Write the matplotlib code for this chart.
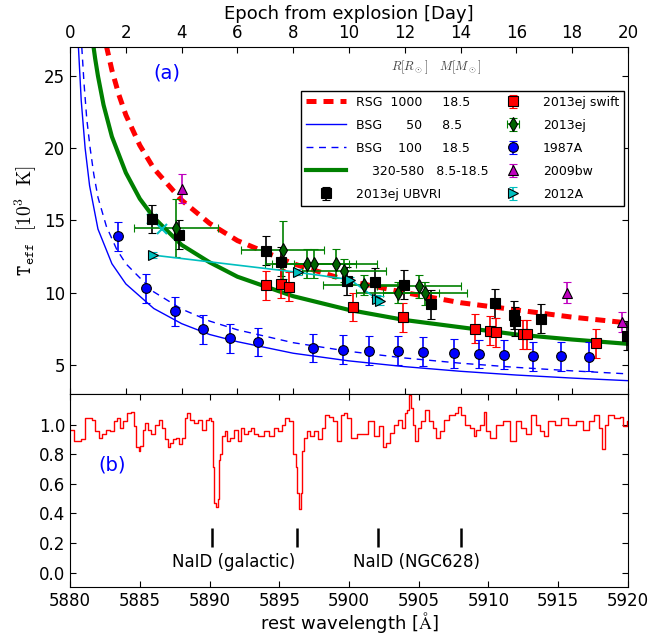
import matplotlib
matplotlib.use('Agg')
import matplotlib.pyplot as plt

plt.rcParams['mathtext.fontset'] = 'cm'
plt.rcParams['xtick.direction'] = 'in'
plt.rcParams['ytick.direction'] = 'in'
plt.rcParams['xtick.major.size'] = 4
plt.rcParams['ytick.major.size'] = 4
plt.rcParams['font.size'] = 12

# model curves
rsg_day = [1.3, 1.5, 1.75, 2, 2.5, 3, 4, 5, 6, 8, 10, 12, 14, 16, 18, 20]
rsg_T = [27.1, 25.4, 23.7, 22.3, 20.2, 18.6, 16.4, 14.8, 13.6, 12.0, 10.8, 10.0, 9.3, 8.8, 8.3, 7.9]

bsg50_day = [0.3, 0.4, 0.54, 0.7, 1, 1.5, 2, 3, 4, 5, 6, 8, 10, 12, 14, 16, 18, 20]
bsg50_T = [27.0, 23.3, 20.0, 17.4, 14.4, 12.0, 10.6, 8.9, 7.85, 7.1, 6.6, 5.8, 5.27, 4.87, 4.55, 4.29, 4.08, 3.9]

bsg100_day = [0.42, 0.5, 0.6, 0.72, 0.85, 1, 1.3, 1.67, 2, 3, 4, 5, 6, 8, 10, 12, 14, 16, 18, 20]
bsg100_T = [27.0, 24.5, 22.0, 20.0, 18.2, 16.6, 14.6, 13.0, 12.0, 10.05, 8.86, 8.03, 7.42, 6.53, 5.93, 5.47, 5.11, 4.82, 4.58, 4.37]

mid_day = [0.8, 0.9, 1.0, 1.2, 1.5, 2, 2.5, 3, 4, 5, 6, 8, 10, 12, 14, 16, 18, 20]
mid_T = [27.6, 26.2, 25.0, 23.0, 20.8, 18.3, 16.5, 15.2, 13.3, 12.1, 11.1, 9.75, 8.8, 8.1, 7.6, 7.1, 6.75, 6.45]

# observations
ubvri_day = [2.93, 3.92, 7.03, 7.56, 9.92, 10.93, 11.97, 12.94, 15.23, 15.9, 15.95, 16.88, 19.95]
ubvri_T = [15.1, 14.0, 12.9, 12.15, 10.8, 10.7, 10.55, 9.2, 9.25, 8.45, 8.0, 8.2, 7.0]
ubvri_err = [1.0] * 13

swift_day = [7.03, 7.56, 7.86, 10.14, 11.95, 14.52, 15.05, 15.26, 16.25, 16.37, 18.85]
swift_T = [10.5, 10.6, 10.4, 9.0, 8.3, 7.5, 7.35, 7.25, 7.12, 7.1, 6.5]
swift_err = [1.0] * 11

ej_day = [3.8, 7.62, 8.5, 8.74, 9.52, 9.83, 10.55, 11.74, 12.52, 12.72]
ej_T = [14.45, 12.95, 12.0, 12.0, 12.0, 11.5, 10.5, 10.0, 10.45, 9.95]
ej_xerr = [1.5] * 10
ej_yerr = [2.0, 2.0, 1.0, 1.0, 1.0, 0.8, 0.7, 0.7, 0.8, 0.8]

sn87_day = [1.72, 2.72, 3.76, 4.77, 5.73, 6.74, 8.71, 9.78, 10.7, 11.76, 12.66, 13.76, 14.66, 15.56, 16.6, 17.6, 18.6]
sn87_T = [13.9, 10.3, 8.7, 7.47, 6.85, 6.58, 6.16, 6.03, 5.96, 5.96, 5.9, 5.8, 5.75, 5.7, 5.6, 5.6, 5.55]
sn87_err = [1.0] * 17

bw_day = [4.0, 17.8, 19.8]
bw_T = [17.2, 10.0, 7.95]
bw_err = [1.0, 0.7, 0.7]

a12_day = [2.96, 8.18, 10.04, 11.0, 11.1]
a12_T = [12.6, 11.4, 10.9, 9.55, 9.45]
a12_err = [0.2, 0.2, 0.2, 0.3, 0.3]

cross_day = [2.93, 3.29, 3.92]
cross_T = [15.1, 14.4, 14.0]

# NaID spectrum
wl = [5880.0, 5880.55, 5880.96, 5881.23, 5881.5, 5881.64, 5881.97, 5882.19, 5882.46, 5882.74,
      5883.01, 5883.28, 5883.42, 5883.69, 5883.97, 5884.24, 5884.46, 5884.65, 5884.87, 5884.98,
      5885.12, 5885.28, 5885.47, 5885.66, 5885.88, 5886.29, 5886.48, 5886.7, 5886.92, 5887.06,
      5887.25, 5887.52, 5887.74, 5887.93, 5888.13, 5888.34, 5888.48, 5888.76, 5889.03, 5889.3,
      5889.58, 5889.85, 5890.04, 5890.18, 5890.26, 5890.34, 5890.53, 5890.62, 5890.72, 5890.81,
      5891.03, 5891.16, 5891.35, 5891.63, 5891.9, 5892.18, 5892.31, 5892.59, 5892.86, 5893.13,
      5893.27, 5893.68, 5894.09, 5894.5, 5894.77, 5895.05, 5895.32, 5895.51, 5895.87, 5896.14,
      5896.22, 5896.33, 5896.5, 5896.61, 5896.72, 5896.85, 5897.1, 5897.37, 5897.65, 5897.92,
      5898.19, 5898.33, 5898.74, 5899.02, 5899.29, 5899.56, 5899.7, 5899.97, 5900.38, 5900.79,
      5901.07, 5901.61, 5902.02, 5902.3, 5902.57, 5902.79, 5903.12, 5903.39, 5903.67, 5903.94,
      5904.08, 5904.21, 5904.35, 5904.49, 5904.62, 5904.84, 5905.03, 5905.31, 5905.58, 5905.85,
      5906.13, 5906.4, 5906.68, 5906.95, 5907.36, 5907.77, 5907.91, 5908.18, 5908.45, 5908.86,
      5909.0, 5909.27, 5909.55, 5909.74, 5909.96, 5910.23, 5910.78, 5911.33, 5911.74, 5912.15,
      5912.56, 5912.83, 5913.24, 5913.52, 5913.93, 5914.06, 5914.47, 5915.02, 5915.43, 5915.98,
      5916.52, 5917.07, 5917.35, 5917.76, 5918.03, 5918.22, 5918.44, 5918.71, 5919.26, 5919.54,
      5919.81, 5920.0]
flux = [0.967, 0.89, 0.90, 1.044, 1.044, 1.033, 0.956, 0.912, 0.934, 0.967,
        0.956, 1.022, 1.044, 0.978, 1.022, 1.077, 1.088, 0.989, 0.846, 0.824,
        0.857, 0.967, 1.011, 0.967, 0.934, 1.0, 1.033, 0.978, 0.90, 0.846,
        0.879, 0.90, 0.912, 0.868, 0.912, 1.044, 1.077, 1.033, 1.011, 1.033,
        0.967, 1.033, 1.044, 1.022, 0.714, 0.473, 0.44, 0.495, 0.758, 0.802,
        0.923, 0.956, 0.89, 0.912, 0.967, 0.89, 0.978, 0.934, 0.956, 0.978,
        0.934, 0.923, 0.956, 0.923, 0.978, 0.956, 1.0, 1.044, 1.022, 0.802,
        0.714, 0.538, 0.429, 0.538, 0.824, 0.912, 0.956, 0.923, 0.956, 0.90,
        0.978, 1.066, 1.055, 1.022, 0.89, 1.066, 1.077, 1.044, 0.912, 0.934,
        0.934, 1.022, 0.923, 0.989, 0.846, 0.879, 0.945, 1.0, 1.033, 0.978,
        1.077, 1.099, 1.198, 1.11, 1.0, 0.89, 0.978, 1.022, 1.099, 1.022,
        0.978, 0.912, 0.956, 1.033, 1.066, 1.077, 1.121, 1.066, 1.0, 0.978,
        0.923, 0.967, 1.0, 1.088, 0.956, 0.912, 1.0, 1.022, 0.89, 1.022,
        0.978, 0.934, 1.066, 1.0, 0.956, 0.923, 1.022, 1.0, 1.044, 1.0,
        1.022, 0.967, 1.022, 1.066, 0.978, 0.835, 1.0, 1.066, 1.044, 1.055,
        0.989, 1.022]

nad_lines = [5890.2, 5896.25, 5902.05, 5908.0]

fig = plt.figure(figsize=(6.61, 6.37), dpi=100)
ax1 = fig.add_axes([0.106, 0.382, 0.844, 0.544])
ax2 = fig.add_axes([0.106, 0.078, 0.844, 0.304])

# models
ax1.plot(rsg_day, rsg_T, color='red', lw=3.6, ls=(0, (2, 1.4)), label='RSG  1000     18.5')
ax1.plot(bsg50_day, bsg50_T, color='blue', lw=1, label='BSG      50     8.5')
ax1.plot(bsg100_day, bsg100_T, color='blue', lw=1, ls=(0, (5, 4)), label='BSG    100     18.5')
ax1.plot(mid_day, mid_T, color='green', lw=3, label='    320-580   8.5-18.5')

eb = dict(capsize=3, elinewidth=1.2, capthick=1.2, mec='k', mew=0.8, ls='none')
ax1.errorbar(ubvri_day, ubvri_T, yerr=ubvri_err, fmt='s', color='k', ms=7,
             label='2013ej UBVRI', **eb)
ax1.errorbar(swift_day, swift_T, yerr=swift_err, fmt='s', color='red', ecolor='red',
             ms=7, label='2013ej swift', **eb)
ax1.errorbar(ej_day, ej_T, xerr=ej_xerr, yerr=ej_yerr, fmt='d', mfc='#006400', ecolor='green',
             color='green', ms=7, label='2013ej', **eb)
ax1.errorbar(sn87_day, sn87_T, yerr=sn87_err, fmt='o', color='blue', ms=7,
             label='1987A', **eb)
ax1.errorbar(bw_day, bw_T, yerr=bw_err, fmt='^', color='m', ms=7, label='2009bw', **eb)
ax1.plot(a12_day, a12_T, color='c', lw=1.2)
ax1.errorbar(a12_day, a12_T, yerr=a12_err, fmt='>', color='c', ms=7, label='2012A', **eb)
ax1.plot(cross_day, cross_T, 'x', color='c', ms=7, mew=1.5)

ax1.set_xlim(0, 20)
ax1.set_ylim(3, 27)
ax1.set_xticks(range(0, 21, 2))
ax1.set_yticks([5, 10, 15, 20, 25])
ax1.xaxis.set_ticks_position('both')
ax1.yaxis.set_ticks_position('both')
ax1.tick_params(labelbottom=False, labeltop=True, labelsize=12)
ax1.xaxis.set_label_position('top')
ax1.set_xlabel('Epoch from explosion [Day]', fontsize=13)
ax1.set_ylabel(r'$\mathtt{T_{eff}}\ \ [10^3\ \ \mathrm{K}]$', fontsize=14)
ax1.text(3.48, 25.2, '(a)', color='blue', fontsize=14, ha='center', va='center')
ax1.text(0.609, 0.943, r'$R[R_\odot]$', transform=ax1.transAxes, fontsize=9,
         color='#444444', ha='center', va='center')
ax1.text(0.699, 0.943, r'$M[M_\odot]$', transform=ax1.transAxes, fontsize=9,
         color='#444444', ha='center', va='center')

handles, labels = ax1.get_legend_handles_labels()
order = ['RSG  1000     18.5', 'BSG      50     8.5', 'BSG    100     18.5',
         '    320-580   8.5-18.5', '2013ej UBVRI', '2013ej swift', '2013ej', '1987A',
         '2009bw', '2012A']
hl = dict(zip(labels, handles))
leg = ax1.legend([hl[k] for k in order], order, ncol=2, loc='upper right',
                 bbox_to_anchor=(0.993, 0.874), borderaxespad=0, fontsize=9,
                 numpoints=1, handlelength=3.2, labelspacing=0.8, columnspacing=0.3,
                 fancybox=False, framealpha=1, edgecolor='k')
leg.get_frame().set_linewidth(1.0)

# spectrum
ax2.plot(wl, flux, color='red', lw=1, drawstyle='steps-mid')
ax2.vlines(nad_lines, 0.17, 0.30, color='k', lw=1.8)
ax2.text(5891.75, 0.07, 'NaID (galactic)', fontsize=12, ha='center', va='center')
ax2.text(5904.85, 0.07, 'NaID (NGC628)', fontsize=12, ha='center', va='center')
ax2.text(5883, 0.73, '(b)', color='blue', fontsize=14, ha='center', va='center')
ax2.set_xlim(5880, 5920)
ax2.set_ylim(-0.1, 1.21)
ax2.set_xticks(range(5880, 5921, 5))
ax2.set_yticks([0.0, 0.2, 0.4, 0.6, 0.8, 1.0])
ax2.xaxis.set_ticks_position('both')
ax2.yaxis.set_ticks_position('both')
ax2.tick_params(labelsize=12)
ax2.set_xlabel('rest wavelength [' + r'$\mathrm{\AA}$' + ']', fontsize=13, labelpad=0)

fig.savefig('out.png', dpi=100)
